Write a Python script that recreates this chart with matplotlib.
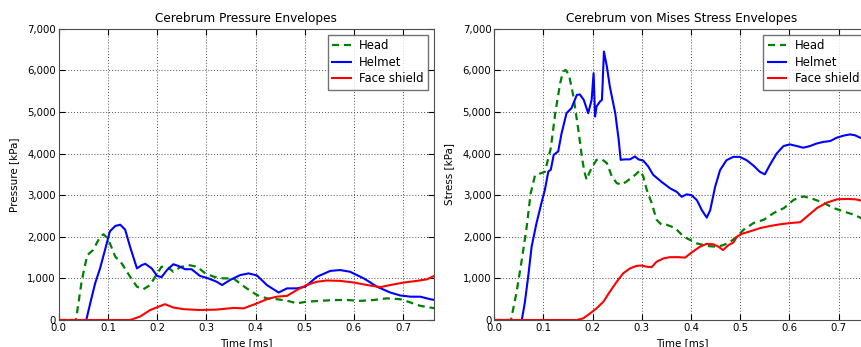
import numpy as np
import matplotlib
matplotlib.use('Agg')
import matplotlib.pyplot as plt
from matplotlib.ticker import FuncFormatter, MultipleLocator

# --- pressure envelopes (left) ---
p_head_t = [0.0, 0.035, 0.047, 0.058, 0.07, 0.084, 0.091, 0.1, 0.115, 0.128, 0.145, 0.159, 0.172,
            0.186, 0.196, 0.209, 0.22, 0.233, 0.247, 0.264, 0.281, 0.298, 0.315, 0.335, 0.355,
            0.382, 0.403, 0.423, 0.443, 0.464, 0.484, 0.504, 0.531, 0.559, 0.586, 0.613, 0.64,
            0.667, 0.694, 0.715, 0.735, 0.755, 0.765]
p_head = [0, 0, 960, 1560, 1680, 2000, 2060, 1960, 1520, 1360, 1040, 800, 740,
          840, 1040, 1280, 1280, 1160, 1270, 1320, 1280, 1120, 1040, 1000, 1000,
          760, 600, 520, 500, 465, 400, 440, 460, 480, 480, 460, 480,
          520, 500, 420, 340, 300, 280]

p_helm_t = [0.0, 0.056, 0.064, 0.074, 0.084, 0.094, 0.104, 0.115, 0.125, 0.135, 0.145, 0.159,
            0.169, 0.176, 0.189, 0.2, 0.209, 0.22, 0.233, 0.243, 0.257, 0.27, 0.287, 0.304,
            0.321, 0.332, 0.348, 0.369, 0.386, 0.403, 0.423, 0.447, 0.464, 0.484, 0.501,
            0.525, 0.552, 0.572, 0.592, 0.62, 0.647, 0.674, 0.694, 0.715, 0.735, 0.755, 0.765]
p_helm = [0, 0, 400, 880, 1240, 1680, 2130, 2260, 2290, 2170, 1760, 1240,
          1320, 1350, 1240, 1060, 1030, 1200, 1340, 1300, 1220, 1220, 1060, 1000,
          920, 840, 960, 1080, 1120, 1070, 840, 660, 760, 760, 800,
          1040, 1180, 1200, 1160, 1000, 800, 660, 590, 560, 560, 500, 480]

p_face_t = [0.0, 0.145, 0.165, 0.186, 0.203, 0.216, 0.233, 0.254, 0.287, 0.321, 0.355, 0.376,
            0.403, 0.423, 0.443, 0.464, 0.484, 0.504, 0.525, 0.545, 0.572, 0.6, 0.627, 0.654,
            0.674, 0.701, 0.728, 0.749, 0.765]
p_face = [0, 0, 80, 240, 320, 380, 300, 260, 240, 250, 290, 280,
          400, 500, 560, 580, 720, 840, 920, 950, 940, 900, 840, 790,
          840, 900, 940, 980, 1070]

# --- von Mises stress envelopes (right) ---
s_head_t = [0.0, 0.034, 0.045, 0.056, 0.066, 0.074, 0.083, 0.093, 0.103, 0.115, 0.124, 0.134,
            0.14, 0.145, 0.152, 0.161, 0.171, 0.179, 0.184, 0.188, 0.193, 0.198, 0.208, 0.219,
            0.229, 0.239, 0.249, 0.259, 0.269, 0.283, 0.296, 0.303, 0.31, 0.32, 0.33, 0.34,
            0.35, 0.368, 0.385, 0.399, 0.412, 0.432, 0.452, 0.466, 0.48, 0.493, 0.507, 0.527,
            0.548, 0.568, 0.589, 0.609, 0.629, 0.65, 0.67, 0.69, 0.71, 0.731, 0.746, 0.765]
s_head = [0, 0, 640, 1440, 2240, 3040, 3480, 3520, 3560, 4130, 4970, 5690,
          5970, 6010, 5890, 5370, 4570, 3850, 3530, 3370, 3530, 3650, 3850, 3860,
          3770, 3450, 3290, 3250, 3330, 3450, 3590, 3450, 3130, 2810, 2410, 2290,
          2290, 2210, 2000, 1920, 1840, 1780, 1760, 1800, 1880, 2000, 2170, 2330,
          2410, 2570, 2690, 2890, 2970, 2900, 2810, 2690, 2610, 2530, 2450, 2400]

s_helm_t = [0.0, 0.056, 0.062, 0.069, 0.076, 0.086, 0.096, 0.103, 0.11, 0.115, 0.121, 0.13,
            0.137, 0.147, 0.157, 0.168, 0.174, 0.182, 0.191, 0.198, 0.202, 0.205, 0.208,
            0.215, 0.219, 0.223, 0.229, 0.235, 0.246, 0.253, 0.257, 0.266, 0.276, 0.286,
            0.293, 0.303, 0.313, 0.323, 0.34, 0.358, 0.371, 0.381, 0.391, 0.401, 0.412, 0.422,
            0.432, 0.439, 0.449, 0.459, 0.472, 0.486, 0.499, 0.513, 0.526, 0.54, 0.55, 0.56,
            0.574, 0.588, 0.601, 0.615, 0.628, 0.642, 0.655, 0.669, 0.683, 0.696, 0.71, 0.723,
            0.733, 0.744, 0.765]
s_helm = [0, 0, 400, 1040, 1760, 2330, 2810, 3130, 3570, 3610, 3970, 4050,
          4490, 4970, 5090, 5410, 5420, 5290, 4970, 5290, 5930, 4890, 5130,
          5250, 5290, 6450, 6090, 5610, 4970, 4330, 3850, 3860, 3860, 3930,
          3860, 3830, 3690, 3490, 3320, 3160, 3080, 2960, 3020, 3000, 2880, 2640,
          2460, 2640, 3200, 3600, 3840, 3920, 3920, 3840, 3720, 3560, 3500, 3720,
          4000, 4180, 4220, 4180, 4140, 4180, 4240, 4280, 4300, 4380, 4430, 4460,
          4440, 4380, 4250]

s_face_t = [0.0, 0.168, 0.181, 0.195, 0.208, 0.222, 0.235, 0.249, 0.262, 0.276, 0.289, 0.299,
            0.31, 0.32, 0.33, 0.344, 0.357, 0.374, 0.388, 0.401, 0.418, 0.432, 0.445, 0.456,
            0.465, 0.476, 0.486, 0.493, 0.503, 0.52, 0.541, 0.561, 0.581, 0.602, 0.622, 0.636,
            0.656, 0.676, 0.697, 0.717, 0.734, 0.746, 0.765]
s_face = [0, 0, 40, 160, 280, 440, 680, 920, 1120, 1240, 1300, 1310,
          1280, 1270, 1400, 1480, 1510, 1510, 1500, 1620, 1760, 1830, 1820, 1760,
          1680, 1800, 1860, 2000, 2070, 2130, 2210, 2260, 2300, 2330, 2350, 2490,
          2690, 2820, 2900, 2910, 2900, 2870, 2820]

titles = ['Cerebrum Pressure Envelopes', 'Cerebrum von Mises Stress Envelopes']
ylabels = ['Pressure [kPa]', 'Stress [kPa]']
labels = ['Head', 'Helmet', 'Face shield']

fig = plt.figure(figsize=(8.61, 3.47), dpi=100)
# the right panel runs past the figure edge, as in the (cropped) reference
ax1 = fig.add_axes([0.0682, 0.0778, 0.436, 0.8395])
ax2 = fig.add_axes([0.574, 0.0778, 0.436, 0.8395])

data = [(p_head_t, p_head, p_helm_t, p_helm, p_face_t, p_face),
        (s_head_t, s_head, s_helm_t, s_helm, s_face_t, s_face)]

for ax, d, title, ylab in zip([ax1, ax2], data, titles, ylabels):
    ax.plot(d[0], d[1], color=(0, 0.5, 0), ls='--', lw=1.6, dashes=(3.2, 2.2), label=labels[0])
    ax.plot(d[2], d[3], color='b', lw=1.5, label=labels[1])
    ax.plot(d[4], d[5], color='r', lw=1.5, label=labels[2])
    ax.set_xlim(0, 0.763)
    ax.set_ylim(0, 7000)
    ax.xaxis.set_major_locator(MultipleLocator(0.1))
    ax.yaxis.set_major_locator(MultipleLocator(1000))
    ax.yaxis.set_major_formatter(FuncFormatter(lambda v, p: '{:,.0f}'.format(v)))
    ax.grid(True, color='0.3', ls=(0, (1, 2)), lw=0.7)
    ax.tick_params(direction='in', top=True, right=True, labelsize=7.3, pad=2, length=4)
    for s in ax.spines.values():
        s.set_color('0.3')
    ax.set_title(title, fontsize=8.7, pad=5)
    ax.set_xlabel('Time [ms]', fontsize=7.5, labelpad=4)
    ax.set_ylabel(ylab, fontsize=7.5, labelpad=6)
    leg = ax.legend(loc='upper right', fontsize=8.4, fancybox=False, handlelength=1.6,
                    handletextpad=0.7, labelspacing=0.3, borderaxespad=0.5)
    leg.get_frame().set_edgecolor('0.3')
    leg.get_frame().set_linewidth(1.0)

fig.savefig('out.png', dpi=100)
